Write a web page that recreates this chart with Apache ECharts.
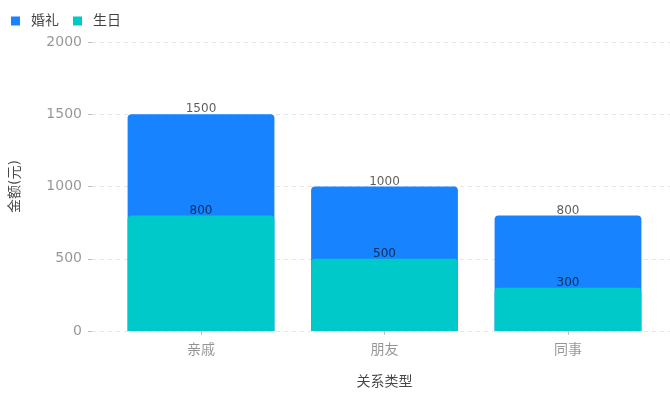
<!DOCTYPE html>
<html>
<head>
<meta charset="utf-8">
<script src="https://cdn.jsdelivr.net/npm/echarts@6/dist/echarts.min.js"></script>
<style>html,body{margin:0;padding:0;background:#fff}#c{width:670px;height:415px}</style>
</head>
<body>
<div id="c"></div>
<script>
const categories = ['亲戚', '朋友', '同事'];
const weddingValues = [1500, 1000, 800];
const birthdayValues = [800, 500, 300];
const seriesNames = ['婚礼', '生日'];
const yTicks = { min: 0, max: 2000, interval: 500 };

const chart = echarts.init(document.getElementById('c'), null, { renderer: 'canvas' });
const labelStyle = { show: true, position: 'top', distance: -1, fontSize: 12, color: 'rgba(0,0,0,0.65)' };
const squareIcon = 'path://M0,0h10v10h-10z';
chart.setOption({
  animation: false,
  textStyle: { fontFamily: 'DejaVu Sans, "Noto Sans CJK SC", sans-serif' },
  color: ['#1783FF', '#00C9C9'],
  legend: {
    left: 6, top: 9, itemWidth: 21, itemHeight: 9, itemGap: 14,
    icon: squareIcon,
    textStyle: { fontSize: 14, color: 'rgba(0,0,0,0.75)' },
    data: seriesNames
  },
  grid: [
    { left: 91, right: 0, top: 42, bottom: 84 },
    { left: 109.25, right: 10.25, top: 42, bottom: 84 }
  ],
  xAxis: [
    { gridIndex: 0, type: 'value', show: false, min: 0, max: 1 },
    {
      gridIndex: 1, type: 'category', data: categories,
      axisLine: { show: false },
      axisTick: { show: true, alignWithLabel: true, length: 4, lineStyle: { color: '#bfbfbf' } },
      axisLabel: { fontSize: 14, color: 'rgba(0,0,0,0.42)', margin: 12 },
      name: '关系类型', nameLocation: 'middle', nameGap: 44,
      nameTextStyle: { fontSize: 14, color: 'rgba(0,0,0,0.72)' }
    }
  ],
  yAxis: [
    {
      gridIndex: 0, type: 'value', min: yTicks.min, max: yTicks.max, interval: yTicks.interval,
      axisLine: { show: false },
      axisTick: { show: true, length: 4, lineStyle: { color: '#bfbfbf' } },
      axisLabel: { fontSize: 14, color: 'rgba(0,0,0,0.42)', margin: 10, formatter: v => String(v) },
      splitLine: { show: true, lineStyle: { type: [4, 4], color: '#e6e6e6' } },
      name: '金额(元)', nameLocation: 'middle', nameGap: 70,
      nameTextStyle: { fontSize: 14, color: 'rgba(0,0,0,0.72)' }
    },
    { gridIndex: 1, type: 'value', min: yTicks.min, max: yTicks.max, interval: yTicks.interval, show: false, splitLine: { show: false } }
  ],
  series: [
    {
      name: seriesNames[0], type: 'bar', xAxisIndex: 1, yAxisIndex: 1,
      data: weddingValues, barWidth: '80%', barGap: '-100%',
      itemStyle: { borderRadius: [4, 4, 0, 0] },
      label: labelStyle
    },
    {
      name: seriesNames[1], type: 'bar', xAxisIndex: 1, yAxisIndex: 1,
      data: birthdayValues, barWidth: '80%', barGap: '-100%',
      itemStyle: { borderRadius: [4, 4, 0, 0] },
      label: labelStyle
    }
  ]
});
</script>
</body>
</html>
